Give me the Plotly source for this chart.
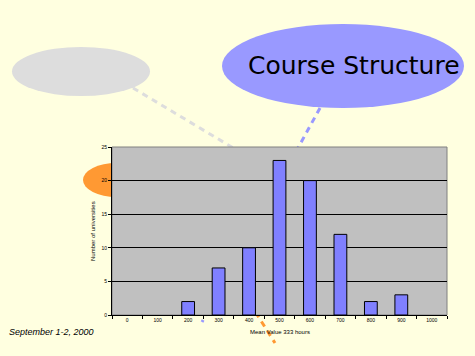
import plotly.graph_objects as go

# ---- data ----
categories = ["0", "100", "200", "300", "400", "500", "600", "700", "800", "900", "1000"]
universities = [0, 0, 2, 7, 10, 23, 20, 12, 2, 3, 0]
y_ticks = [0, 5, 10, 15, 20, 25]
x_title = "Mean Value 333 hours"
y_title = "Number of universities"
title_text = "Course Structure"
date_text = "September 1-2, 2000"

W, H = 475, 356
L, R, T, B = 112, 447, 147, 315  # plot area in pixels


def px(x):
    return (x - L) / (R - L)


def py(y):
    return (B - y) / (B - T)


fig = go.Figure()
fig.add_trace(go.Bar(
    x=categories, y=universities,
    marker=dict(color="#8080FF",
                line=dict(color="black", width=[1 if v else 0 for v in universities])),
    width=0.42,
))

dash = "6px,5px"
shapes = []
# orange ellipse (mostly hidden behind the chart)
shapes.append(dict(type="circle", xref="paper", yref="paper",
                   x0=px(83), x1=px(150), y0=py(197), y1=py(163),
                   fillcolor="#FF9933", line=dict(width=0), layer="below"))
# dashed connectors running behind the chart
shapes.append(dict(type="line", xref="paper", yref="paper",
                   x0=px(320), y0=py(108), x1=px(202), y1=py(322),
                   line=dict(color="#9999FF", width=3, dash=dash), layer="below"))
shapes.append(dict(type="line", xref="paper", yref="paper",
                   x0=px(133), y0=py(88), x1=px(240), y1=py(152),
                   line=dict(color="#DDDDDD", width=3, dash=dash), layer="below"))
shapes.append(dict(type="line", xref="paper", yref="paper",
                   x0=px(232), y0=py(275), x1=px(275), y1=py(343),
                   line=dict(color="#FF9933", width=3, dash=dash), layer="below"))
# plot background covering them
shapes.append(dict(type="rect", xref="paper", yref="paper",
                   x0=0, x1=1, y0=0, y1=1,
                   fillcolor="#C0C0C0", line=dict(color="#808080", width=1), layer="below"))
# decorative ellipses
shapes.append(dict(type="circle", xref="paper", yref="paper",
                   x0=px(12), x1=px(150), y0=py(96), y1=py(47),
                   fillcolor="#DDDDDD", line=dict(width=0), layer="above"))
shapes.append(dict(type="circle", xref="paper", yref="paper",
                   x0=px(222), x1=px(464), y0=py(108), y1=py(24),
                   fillcolor="#9999FF", line=dict(width=0), layer="above"))

annotations = [
    dict(text=title_text, xref="paper", yref="paper", x=px(246), y=py(65),
         xanchor="left", yanchor="middle", showarrow=False,
         font=dict(family="DejaVu Sans", size=25, color="black")),
    dict(text=date_text, xref="paper", yref="paper", x=px(7), y=py(332),
         xanchor="left", yanchor="middle", showarrow=False,
         font=dict(family="Liberation Sans", size=9, color="black", style="italic")),
    dict(text=x_title, xref="paper", yref="paper", x=0.5, y=py(332),
         xanchor="center", yanchor="middle", showarrow=False,
         font=dict(family="Liberation Sans", size=6, color="black")),
    dict(text=y_title, xref="paper", yref="paper", x=px(93), y=0.5,
         xanchor="center", yanchor="middle", showarrow=False, textangle=-90,
         font=dict(family="Liberation Sans", size=6, color="black")),
]

fig.update_layout(
    width=W, height=H,
    margin=dict(l=L, r=W - R, t=T, b=H - B, pad=0),
    paper_bgcolor="#FFFFE0",
    plot_bgcolor="rgba(0,0,0,0)",
    showlegend=False,
    bargap=0.6,
    shapes=shapes,
    annotations=annotations,
    font=dict(family="Liberation Sans", size=5, color="black"),
)
fig.update_xaxes(
    type="category", showgrid=False, zeroline=False,
    showline=True, linecolor="black", linewidth=1,
    ticks="outside", tickson="boundaries", ticklen=3, tickcolor="black",
    tickfont=dict(size=5), fixedrange=True,
)
fig.update_yaxes(
    range=[0, 25], tickvals=y_ticks, showgrid=True, gridcolor="black", gridwidth=1,
    zeroline=False, showline=True, linecolor="black", linewidth=1,
    ticks="outside", ticklen=3, tickcolor="black", tickfont=dict(size=5),
    fixedrange=True,
)

fig.write_html("out.html", config={"displayModeBar": False},
               post_script="document.body.style.margin='0';")
